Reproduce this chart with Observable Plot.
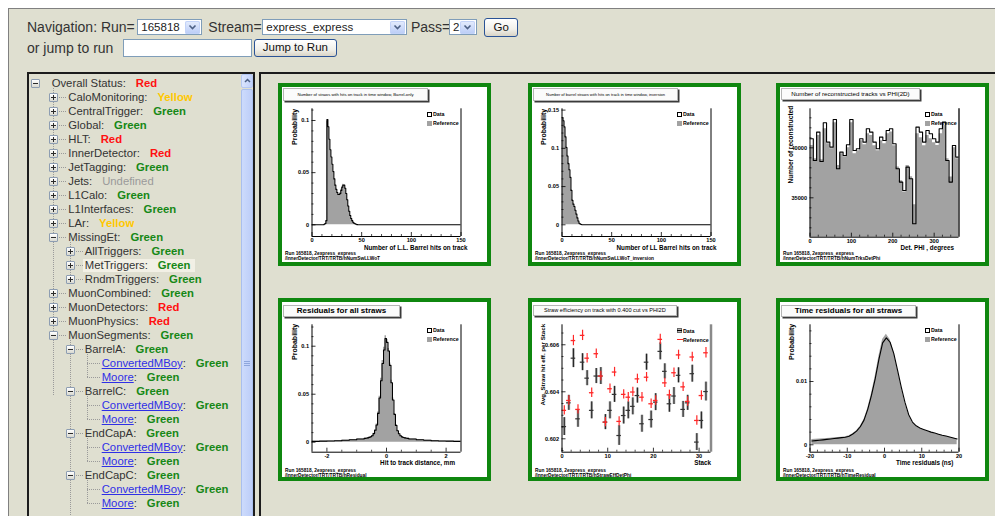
<!DOCTYPE html>
<html><head><meta charset="utf-8">
<script src="https://cdn.jsdelivr.net/npm/d3@7"></script>
<script src="https://cdn.jsdelivr.net/npm/@observablehq/plot@0.6"></script>
<style>
html,body{margin:0;padding:0;width:1000px;height:516px;overflow:hidden;background:#fff}
body{position:relative;font-family:"Liberation Sans",Arial,sans-serif;color:#333}
.a{position:absolute}
#page{left:8px;top:7.5px;width:987px;height:520px;background:#dfdfd0;border-top:1.5px solid #808080;border-left:1px solid #808080;box-sizing:border-box}
.t14{font-size:14px;line-height:16px;white-space:nowrap;color:#333}
.sel{background:#fff;border:1px solid #7f9db9;box-sizing:border-box;font-size:11.5px;line-height:14px;padding-left:3px;color:#222;white-space:nowrap}
.dd{position:absolute;right:0.5px;top:0.5px;width:15px;height:13px;background:linear-gradient(#e6edfd,#b9ccf7);border-radius:2px;box-shadow:inset 0 0 0 1px #c3d3f8}
.btn{border:1px solid #2a5396;border-radius:3px;background:linear-gradient(#ffffff,#f1f0ea 60%,#d9d4c6);box-sizing:border-box;font-size:11.5px;text-align:center;color:#111;white-space:nowrap}
.pane{border-top:2px solid #1c1c1c;border-left:2px solid #1c1c1c;box-sizing:border-box;background:#dfdfd0}
.row{font-size:11.3px;line-height:14px;height:14px;white-space:nowrap;color:#333}
.st{font-weight:bold;margin-left:10px}
.vd{border-left:1px dotted #9a9a9a;width:0}
.hd{border-top:1px dotted #9a9a9a;height:0}
.ic{width:9px;height:9px;box-sizing:border-box;border:1px solid #8d9db2;background:linear-gradient(#ffffff,#d9d9d0);border-radius:1px}
.ic i{position:absolute;background:#2b2b2b}
.panel{width:213px;height:183px;background:#fff;box-shadow:inset 0 0 0 4px #0f870f}
.tbox{background:#fbfbfb;border:1px solid #b5b5b5;box-shadow:1.5px 1.5px 0 #3a3a3a;box-sizing:border-box;text-align:center;white-space:nowrap;overflow:hidden;color:#000}
.foot{font-size:4.8px;line-height:5.4px;font-weight:bold;white-space:nowrap;color:#000}
.lg{font-size:5.3px;line-height:6px;font-weight:bold;white-space:nowrap;color:#000}
</style></head><body>
<div id="page" class="a"></div>

<div class="a t14" style="left:27px;top:19px">Navigation: Run=</div>
<div class="a sel" style="left:137.3px;top:19px;width:64.4px;height:16px">165818<div class="dd"><svg width="15" height="13"><path d="M4.5 4.5 L7.5 7.5 L10.5 4.5" stroke="#4d6185" stroke-width="1.6" fill="none"/></svg></div></div>
<div class="a t14" style="left:208.3px;top:19px">Stream=</div>
<div class="a sel" style="left:262.3px;top:19px;width:144.4px;height:16px">express_express<div class="dd"><svg width="15" height="13"><path d="M4.5 4.5 L7.5 7.5 L10.5 4.5" stroke="#4d6185" stroke-width="1.6" fill="none"/></svg></div></div>
<div class="a t14" style="left:411px;top:19px">Pass=</div>
<div class="a sel" style="left:449px;top:19px;width:27.7px;height:16px">2<div class="dd"><svg width="15" height="13"><path d="M4.5 4.5 L7.5 7.5 L10.5 4.5" stroke="#4d6185" stroke-width="1.6" fill="none"/></svg></div></div>
<div class="a btn" style="left:484px;top:17.5px;width:34.3px;height:19px;line-height:17px">Go</div>
<div class="a t14" style="left:27px;top:40px">or jump to run</div>
<div class="a sel" style="left:123.3px;top:39.3px;width:128.4px;height:17.4px"></div>
<div class="a btn" style="left:254px;top:39.3px;width:82.7px;height:17.4px;line-height:15.4px">Jump to Run</div>

<div id="leftpane" class="a pane" style="left:26.7px;top:72.3px;width:228.3px;height:460px;border-right:2px solid #1c1c1c"></div>
<div id="rightpane" class="a pane" style="left:258.7px;top:72.3px;width:736.3px;height:460px"></div>

<div id="tree"></div>
<div id="charts"></div>

<script>
// ---------------- tree data ----------------
const treeLabels = ["Overall Status","CaloMonitoring","CentralTrigger","Global","HLT","InnerDetector","JetTagging","Jets","L1Calo","L1Interfaces","LAr","MissingEt","AllTriggers","MetTriggers","RndmTriggers","MuonCombined","MuonDetectors","MuonPhysics","MuonSegments","BarrelA","ConvertedMBoy","Moore","BarrelC","ConvertedMBoy","Moore","EndCapA","ConvertedMBoy","Moore","EndCapC","ConvertedMBoy","Moore"];
const treeLevels = [0,1,1,1,1,1,1,1,1,1,1,1,2,2,2,1,1,1,1,2,3,3,2,3,3,2,3,3,2,3,3];
const treeStatus = ["Red","Yellow","Green","Green","Red","Red","Green","Undefined","Green","Green","Yellow","Green","Green","Green","Green","Green","Red","Red","Green","Green","Green","Green","Green","Green","Green","Green","Green","Green","Green","Green","Green"];
const treeOpen = [true,false,false,false,false,false,false,false,false,false,false,true,false,false,false,false,false,false,true,true,null,null,true,null,null,true,null,null,true,null,null];
const treeSelected = "MetTriggers";

// ---------------- chart data ----------------
const runLine = "Run 165818, 2express_express";
// Panel 1
const p1Title = "Number of straws with hits on track in time window, Barrel-only";
const p1Path = "/InnerDetector/TRT/TRTB/hNumSwLLWoT";
const p1XTitle = "Number of L.L. Barrel hits on track";
const p1YTitle = "Probability";
const p1BinLo = 12, p1BinW = 1;
const p1Data = [0.0005,0.0012,0.004,0.101,0.094,0.082,0.072,0.065,0.058,0.051,0.044,0.038,0.034,0.031,0.029,0.029,0.030,0.033,0.036,0.038,0.038,0.035,0.030,0.024,0.018,0.013,0.009,0.006,0.004,0.0025,0.0015,0.001,0.0005,0.0002];
const p1Ref  = [0.0004,0.0011,0.0038,0.099,0.093,0.081,0.071,0.064,0.057,0.050,0.044,0.038,0.034,0.031,0.029,0.029,0.031,0.034,0.037,0.039,0.038,0.035,0.030,0.024,0.018,0.013,0.009,0.006,0.004,0.0025,0.0015,0.001,0.0005,0.0002];
const p1XDomain = [0,150], p1YDomain = [-0.0112,0.1112];
const p1XTicks = [0,50,100,150], p1XMinor = [10,20,30,40,60,70,80,90,110,120,130,140];
const p1YTicks = [0,0.05,0.1], p1YMinor = [0.01,0.02,0.03,0.04,0.06,0.07,0.08,0.09,0.11];
// Panel 2
const p2Title = "Number of barrel straws with hits on track in time window, inversion";
const p2Path = "/InnerDetector/TRT/TRTB/hNumSwLLWoT_inversion";
const p2XTitle = "Number of LL Barrel hits on track";
const p2YTitle = "Probability";
const p2BinLo = 0, p2BinW = 1;
const p2Data = [0.140,0.136,0.128,0.115,0.101,0.090,0.080,0.072,0.062,0.045,0.032,0.027,0.024,0.019,0.014,0.009,0.005,0.002,0.001,0.0003];
const p2Ref  = [0.138,0.135,0.127,0.116,0.102,0.091,0.081,0.072,0.061,0.046,0.033,0.027,0.024,0.019,0.014,0.009,0.005,0.002,0.001,0.0003];
const p2XDomain = [0,150], p2YDomain = [-0.0153,0.1517];
const p2XTicks = [0,50,100,150], p2XMinor = [10,20,30,40,60,70,80,90,110,120,130,140];
const p2YTicks = [0,0.05,0.1,0.15], p2YMinor = [0.01,0.02,0.03,0.04,0.06,0.07,0.08,0.09,0.11,0.12,0.13,0.14];
// Panel 3
const p3Title = "Number of reconstructed tracks vs PHI(2D)";
const p3Path = "/InnerDetector/TRT/TRTB/hNumTrksDetPhi";
const p3XTitle = "Det. PHI , degrees";
const p3YTitle = "Number of reconstructed";
const p3BinLo = 0, p3BinW = 8;
const p3Data = [40900,38730,41570,38630,42500,40570,40070,42830,37900,39570,39230,40300,42830,39730,39900,40900,40570,41900,41570,40570,39900,41070,40730,41730,41900,40400,37900,36570,35730,38070,36900,32400,42070,41570,40570,41730,41400,40900,40570,41900,42570,38730,36570,40230,39070];
const p3Ref  = [40230,38900,41230,38800,41900,40400,39900,42500,38230,39400,39100,40000,42500,39400,39700,40700,40300,41400,41230,40200,39700,40700,40400,41400,41570,40200,38070,36700,35570,38230,37100,34300,41400,41000,40200,41230,40900,40500,40230,41400,42230,38900,37070,40000,38900];
const p3XDomain = [0,360], p3YDomain = [31060,43900];
const p3XTicks = [0,100,200,300], p3XMinor = [20,40,60,80,120,140,160,180,220,240,260,280,320,340];
const p3YTicks = [35000,40000], p3YMinor = [32000,33000,34000,36000,37000,38000,39000,41000,42000,43000];
// Panel 4
const p4Title = "Residuals for all straws";
const p4Path = "/InnerDetector/TRT/TRTB/hResidual";
const p4XTitle = "Hit to track distance, mm";
const p4YTitle = "Probability";
const p4Edges = [-2.5,-2.25,-2,-1.75,-1.5,-1.25,-1,-0.75,-0.7,-0.65,-0.6,-0.55,-0.5,-0.45,-0.4,-0.35,-0.3,-0.25,-0.2,-0.15,-0.1,-0.05,0,0.05,0.1,0.15,0.2,0.25,0.3,0.35,0.4,0.45,0.5,0.55,0.6,0.65,0.7,0.75,1,1.25,1.5,1.75,2,2.25,2.5];
const p4Data = [0.0009,0.0011,0.0013,0.0016,0.0020,0.0026,0.0033,
  0.0040,0.0042,0.0045,0.0050,0.0057,0.0068,0.0090,0.0125,0.0180,0.0300,0.0460,0.0640,0.0820,0.0960,0.1080,0.1040,0.0950,0.0800,0.0620,0.0440,0.0290,0.0175,0.0120,0.0088,0.0067,0.0056,0.0049,0.0045,0.0042,0.0040,
  0.0033,0.0026,0.0020,0.0016,0.0013,0.0011,0.0009];
const p4Ref = [0.0009,0.0011,0.0013,0.0016,0.0020,0.0026,0.0034,
  0.0041,0.0043,0.0046,0.0051,0.0058,0.0070,0.0093,0.0130,0.0190,0.0315,0.0480,0.0665,0.0850,0.0990,0.1110,0.1070,0.0975,0.0825,0.0645,0.0460,0.0300,0.0182,0.0124,0.0090,0.0069,0.0057,0.0050,0.0046,0.0043,0.0041,
  0.0034,0.0026,0.0020,0.0016,0.0013,0.0011,0.0009];
const p4XDomain = [-2.5,2.5], p4YDomain = [-0.0104,0.1223];
const p4XTicks = [-2,0,2], p4XMinor = [-1.5,-1,-0.5,0.5,1,1.5];
const p4YTicks = [0,0.05,0.1], p4YMinor = [0.01,0.02,0.03,0.04,0.06,0.07,0.08,0.09,0.11,0.12];
// Panel 5
const p5Title = "Straw efficiency on track with 0.400 cut vs PHI2D";
const p5Path = "/InnerDetector/TRT/TRTB/hStrawEffDetPhi";
const p5XTitle = "Stack";
const p5YTitle = "Avg. Straw hit eff. per Stack";
const p5Stacks = [0,1,2,3,4,5,6,7,8,9,10,11,12,13,14,15,16,17,18,19,20,21,22,23,24,25,26,27,28,29,30,31];
const p5Data = [0.60252,0.60353,0.60543,0.60285,0.60526,0.60458,0.60321,0.60467,0.60467,0.60271,0.60321,0.60389,0.60214,0.60299,0.60321,0.60338,0.60384,0.60264,0.60526,0.60282,0.60356,0.60572,0.60487,0.60349,0.60382,0.60470,0.60325,0.60353,0.60477,0.60186,0.60278,0.60401];
const p5DataErr = [0.00038,0.00032,0.00040,0.00036,0.00036,0.00032,0.00036,0.00032,0.00036,0.00032,0.00036,0.00034,0.00042,0.00036,0.00036,0.00036,0.00032,0.00036,0.00034,0.00036,0.00036,0.00036,0.00032,0.00036,0.00036,0.00032,0.00034,0.00032,0.00036,0.00036,0.00036,0.00040];
const p5Ref = [0.60321,0.60363,0.60618,0.60325,0.60640,0.60543,0.60396,0.60562,0.60467,0.60271,0.60413,0.60484,0.60274,0.60389,0.60377,0.60399,0.60455,0.60377,0.60462,0.60349,0.60363,0.60623,0.60438,0.60387,0.60481,0.60557,0.60421,0.60359,0.60548,0.60278,0.60384,0.60566];
const p5RefErr = [0.00020,0.00020,0.00022,0.00020,0.00022,0.00020,0.00020,0.00020,0.00020,0.00020,0.00020,0.00020,0.00020,0.00020,0.00020,0.00020,0.00020,0.00020,0.00020,0.00020,0.00020,0.00022,0.00020,0.00020,0.00020,0.00020,0.00020,0.00020,0.00020,0.00020,0.00020,0.00022];
const p5XDomain = [0,32.6], p5YDomain = [0.60143,0.60685];
const p5XTicks = [0,10,20,30], p5XMinor = [2,4,6,8,12,14,16,18,22,24,26,28,32];
const p5YTicks = [0.602,0.604,0.606], p5YMinor = [0.6015,0.6025,0.603,0.6035,0.6045,0.605,0.6055,0.6065];
// Panel 6
const p6Title = "Time residuals for all straws";
const p6Path = "/InnerDetector/TRT/TRTB/hTimeResidual";
const p6XTitle = "Time residuals (ns)";
const p6YTitle = "Probability";
const p6BinLo = -20, p6BinW = 1;
const p6Data = [0.00060,0.00066,0.00072,0.00078,0.00085,0.00092,0.00099,0.00106,0.00113,0.00120,0.00135,0.00170,0.00215,0.00285,0.00390,0.00560,0.00780,0.01040,0.01350,0.01610,0.01690,0.01620,0.01440,0.01180,0.00910,0.00670,0.00475,0.00360,0.00300,0.00265,0.00243,0.00222,0.00200,0.00185,0.00168,0.00152,0.00138,0.00123,0.00108,0.00092];
const p6Ref  = [0.00085,0.00089,0.00093,0.00097,0.00101,0.00105,0.00110,0.00115,0.00121,0.00128,0.00142,0.00175,0.00222,0.00292,0.00400,0.00575,0.00805,0.01080,0.01400,0.01665,0.01745,0.01665,0.01470,0.01195,0.00915,0.00665,0.00470,0.00352,0.00292,0.00258,0.00236,0.00215,0.00194,0.00178,0.00162,0.00147,0.00133,0.00119,0.00105,0.00090];
const p6XDomain = [-20,20], p6YDomain = [-0.00117,0.01896];
const p6XTicks = [-20,-10,0,10,20], p6XMinor = [-18,-16,-14,-12,-8,-6,-4,-2,2,4,6,8,12,14,16,18];
const p6YTicks = [0,0.01], p6YMinor = [0.002,0.004,0.006,0.008,0.012,0.014,0.016,0.018];

// ---------------- tree rendering ----------------
(function(){
  const tree = document.getElementById("tree");
  const rowY = i => 83.3 + 14 * i;
  const iconXs = [35, 52.7, 70, 86.7], textXs = [51.7, 68.3, 84.8, 101.7];
  const colors = {Red:"#ff1010", Yellow:"#ffc800", Green:"#168816", Undefined:"#9a9a9a"};
  let html = "";
  html += `<div class="a" style="left:240.5px;top:74.3px;width:12.5px;height:14px;background:linear-gradient(90deg,#dbe5fd,#c0d1fa);border:1px solid #b4c7f2;border-radius:2px;box-sizing:border-box"><svg width="11" height="12" style="position:absolute;left:0;top:0"><path d="M3 7 L5.5 4.5 L8 7" stroke="#4d6185" stroke-width="1.5" fill="none"/></svg></div>`;
  html += `<div class="a" style="left:240.5px;top:89px;width:12.5px;height:440px;background:linear-gradient(90deg,#cddbfc,#bccdf8);border:1px solid #a9bfee;border-radius:2px;box-sizing:border-box"></div>`;
  for (let k = 0; k < 3; k++) html += `<div class="a" style="left:244px;top:${361 + 2*k}px;width:6px;height:1px;background:#8ea6dc"></div>`;
  const sel = treeLabels.indexOf(treeSelected);
  html += `<div class="a" style="left:83.3px;top:${rowY(sel)-6.7}px;width:112px;height:13.4px;background:#f2f0e5"></div>`;
  for (let i = 1; i < treeLabels.length; i++) {
    const L = treeLevels[i];
    let p = i - 1; while (treeLevels[p] > L) p--;
    const y0 = treeLevels[p] === L ? rowY(p) : rowY(p) + 5;
    html += `<div class="a vd" style="left:${iconXs[L]}px;top:${y0}px;height:${rowY(i)-y0}px"></div>`;
    html += `<div class="a hd" style="left:${iconXs[L]}px;top:${rowY(i)}px;width:${textXs[L]-iconXs[L]-2}px"></div>`;
  }
  html += `<div class="a vd" style="left:${iconXs[1]}px;top:${rowY(18)}px;height:60px"></div>`;
  html += `<div class="a vd" style="left:${iconXs[2]}px;top:${rowY(28)}px;height:60px"></div>`;
  treeLabels.forEach((lab, i) => {
    const L = treeLevels[i], y = rowY(i);
    if (treeOpen[i] !== null) {
      html += `<div class="a ic" style="left:${iconXs[L]-4}px;top:${y-4.5}px"><i style="left:1px;top:3px;width:5px;height:1px"></i>${treeOpen[i] ? "" : '<i style="left:3px;top:1px;width:1px;height:5px"></i>'}</div>`;
    }
    const st = treeStatus[i];
    const stStyle = st === "Undefined" ? `color:${colors[st]};font-weight:normal` : `color:${colors[st]}`;
    const labHtml = treeOpen[i] === null ? `<span style="color:#2f2fe6;text-decoration:underline">${lab}</span>:` : `${lab}:`;
    html += `<div class="a row" style="left:${textXs[L]}px;top:${y-7.5}px">${labHtml}<span class="st" style="${stStyle}">${st}</span></div>`;
  });
  tree.innerHTML = html;
})();

// ---------------- chart rendering ----------------
const GRAY = "#a2a2a2";
const FONT = "Liberation Sans, Arial, sans-serif";
const charts = document.getElementById("charts");

function makePanel(left, top) {
  const d = document.createElement("div");
  d.className = "a panel";
  d.style.left = left + "px"; d.style.top = top + "px";
  charts.appendChild(d);
  return d;
}
function addTitle(p, t, box, fs, bold) {
  const d = document.createElement("div");
  d.className = "a tbox";
  d.style.cssText += `left:${box[0]}px;top:${box[1]}px;width:${box[2]}px;height:${box[3]}px;font-size:${fs}px;line-height:${box[3]-2}px;font-weight:${bold ? "bold" : "normal"}`;
  d.textContent = t;
  p.appendChild(d);
}
function addFooter(p, top, path) {
  const d = document.createElement("div");
  d.className = "a foot";
  d.style.left = "7px"; d.style.top = top + "px";
  d.innerHTML = runLine + "<br>" + path;
  p.appendChild(d);
}
function addLegend(p, top, kind) {
  const d = document.createElement("div");
  d.className = "a";
  d.style.left = "148.5px"; d.style.top = top + "px";
  let h = "";
  if (kind === "hist") {
    h += `<div class="a" style="left:0;top:0;width:5px;height:5px;border:1px solid #000;border-top-width:1.5px;box-sizing:border-box;background:#fff"></div>`;
    h += `<div class="a" style="left:0;top:9px;width:5px;height:5px;background:${GRAY}"></div>`;
  } else {
    h += `<div class="a" style="left:0;top:0;width:5px;height:5px;border:1px solid #666;box-sizing:border-box;background:#bbb"></div><div class="a" style="left:0;top:2px;width:5px;height:1px;background:#000"></div>`;
    h += `<div class="a" style="left:0;top:11px;width:6px;height:1.2px;background:#ff2828"></div>`;
  }
  h += `<div class="a lg" style="left:6.5px;top:-0.5px">Data</div><div class="a lg" style="left:6.5px;top:8.5px">Reference</div>`;
  d.innerHTML = h;
  p.appendChild(d);
}

function axesMarks(c, fw, fh) {
  return [
    Plot.ruleX([c.xD[0]], {stroke: "#000", strokeWidth: 1}),
    Plot.ruleX([c.xD[1]], {stroke: c.rightStroke || "#000", strokeWidth: c.rightWidth || 1}),
    Plot.ruleY([c.yD[0]], {stroke: "#000", strokeWidth: 1}),
    Plot.tickY(c.yTicks, {y: d => d, insetRight: fw - 4, stroke: "#000", strokeWidth: 0.8}),
    Plot.tickY(c.yMinor, {y: d => d, insetRight: fw - 2, stroke: "#000", strokeWidth: 0.7}),
    Plot.tickX(c.xTicks, {x: d => d, insetTop: fh - 4, stroke: "#000", strokeWidth: 0.8}),
    Plot.tickX(c.xMinor, {x: d => d, insetTop: fh - 2, stroke: "#000", strokeWidth: 0.7}),
    Plot.axisY(c.yTicks, {tickSize: 0, tickPadding: 3, tickFormat: String, label: null, fontSize: 5.6}),
    Plot.axisX(c.xTicks, {tickSize: 0, tickPadding: c.xPad, tickFormat: String, label: null, fontSize: 5.6}),
    Plot.text([c.xTitle], {text: d => d, frameAnchor: "bottom-right", textAnchor: "end", dx: c.xTitleDx, dy: 13, fontSize: 6.3}),
    Plot.text([c.yTitle], {text: d => d, frameAnchor: "top-left", rotate: -90, textAnchor: "end", dx: c.yTitleDx, dy: c.yTitleDy, fontSize: c.yTitleFs || 7})
  ];
}

function chart(c, dataMarks) {
  const W = 213, H = 183, ml = 33.5, mr = 30.5;
  const fw = W - ml - mr, fh = H - c.mt - c.mb;
  const svg = Plot.plot({
    width: W, height: H,
    marginLeft: ml, marginRight: mr, marginTop: c.mt, marginBottom: c.mb,
    x: {domain: c.xD, axis: null},
    y: {domain: c.yD, axis: null},
    style: {background: "transparent", overflow: "visible", fontFamily: FONT, fontWeight: "bold", color: "#000"},
    marks: [...dataMarks, ...axesMarks(c, fw, fh)]
  });
  svg.style.position = "absolute"; svg.style.left = "0px"; svg.style.top = "0px";
  return svg;
}

function histMarks(c) {
  const n = c.ref.length;
  const edges = c.edges || c.ref.map((_, i) => c.lo + i * c.w).concat([c.lo + n * c.w]);
  let pts, curve;
  if (c.smooth) {
    curve = "linear";
    pts = c.ref.map((v, i) => ({x: (edges[i] + edges[i + 1]) / 2, ref: v, data: c.data[i], base: 0}));
  } else {
    curve = "step-after";
    pts = c.ref.map((v, i) => ({x: edges[i], ref: v, data: c.data[i], base: 0}));
    pts.push({x: edges[n], ref: c.ref[n - 1], data: c.data[n - 1], base: 0});
    if (edges[0] > c.xD[0]) pts.unshift({x: c.xD[0], ref: 0, data: 0, base: 0});
    if (edges[n] < c.xD[1]) pts.push({x: edges[n], ref: 0, data: 0, base: 0}, {x: c.xD[1], ref: 0, data: 0, base: 0});
  }
  return [
    Plot.area(pts, {x1: "x", y1: "base", y2: "ref", curve, fill: GRAY, clip: true}),
    Plot.line(pts, {x: "x", y: "data", curve, stroke: "#000", strokeWidth: 1.1, clip: true})
  ];
}

const panels = [
  {left: 278, top: 83, mt: 25.3, mb: 30, xPad: 1.5, title: p1Title, tbox: [5, 5, 145, 13], tfs: 4.2, tbold: false, path: p1Path,
   xTitle: p1XTitle, yTitle: p1YTitle, xTitleDx: 6.5, yTitleDx: -19.8, yTitleDy: 0,
   lo: p1BinLo, w: p1BinW, data: p1Data, ref: p1Ref, xD: p1XDomain, yD: p1YDomain,
   xTicks: p1XTicks, xMinor: p1XMinor, yTicks: p1YTicks, yMinor: p1YMinor, legTop: 28.5, footTop: 167.5},
  {left: 528, top: 83, mt: 25.3, mb: 30, xPad: 1.5, title: p2Title, tbox: [5, 5, 145, 13], tfs: 4.0, tbold: false, path: p2Path,
   xTitle: p2XTitle, yTitle: p2YTitle, xTitleDx: 5.5, yTitleDx: -20.5, yTitleDy: 0,
   lo: p2BinLo, w: p2BinW, data: p2Data, ref: p2Ref, xD: p2XDomain, yD: p2YDomain,
   xTicks: p2XTicks, xMinor: p2XMinor, yTicks: p2YTicks, yMinor: p2YMinor, legTop: 28.5, footTop: 167.5},
  {left: 776, top: 83, mt: 25.3, mb: 29.3, xPad: 1.5, title: p3Title, tbox: [5, 5, 139, 11.5], tfs: 6.2, tbold: false, path: p3Path,
   xTitle: p3XTitle, yTitle: p3YTitle, xTitleDx: -5, yTitleDx: -21.5, yTitleDy: -3, yTitleFs: 6.5,
   lo: p3BinLo, w: p3BinW, data: p3Data, ref: p3Ref, xD: p3XDomain, yD: p3YDomain,
   xTicks: p3XTicks, xMinor: p3XMinor, yTicks: p3YTicks, yMinor: p3YMinor, legTop: 28.5, footTop: 167.5, rightWidth: 1.3},
  {left: 278, top: 298, mt: 26.3, mb: 29.3, xPad: 2, title: p4Title, tbox: [5, 7, 117, 11.7], tfs: 8, tbold: true, path: p4Path,
   xTitle: p4XTitle, yTitle: p4YTitle, xTitleDx: -6, yTitleDx: -19.8, yTitleDy: -1,
   edges: p4Edges, data: p4Data, ref: p4Ref, xD: p4XDomain, yD: p4YDomain,
   xTicks: p4XTicks, xMinor: p4XMinor, yTicks: p4YTicks, yMinor: p4YMinor, legTop: 29.5, footTop: 169.5},
  {left: 528, top: 298, mt: 26.3, mb: 29.3, xPad: 2, title: p5Title, tbox: [5, 7, 143.7, 10.7], tfs: 5.6, tbold: false, path: p5Path,
   xTitle: p5XTitle, yTitle: p5YTitle, xTitleDx: 0, yTitleDx: -21.5, yTitleDy: -1, yTitleFs: 6.2,
   xD: p5XDomain, yD: p5YDomain, rightStroke: "#8a8a8a", rightWidth: 2.5,
   xTicks: p5XTicks, xMinor: p5XMinor, yTicks: p5YTicks, yMinor: p5YMinor, legTop: 30, footTop: 169.5, points: true},
  {left: 776, top: 298, mt: 26.3, mb: 29.3, xPad: 2, title: p6Title, tbox: [5, 7, 135, 11.7], tfs: 8, tbold: true, path: p6Path,
   xTitle: p6XTitle, yTitle: p6YTitle, xTitleDx: -5.7, yTitleDx: -20.5, yTitleDy: -1,
   lo: p6BinLo, w: p6BinW, data: p6Data, ref: p6Ref, xD: p6XDomain, yD: p6YDomain, smooth: true,
   xTicks: p6XTicks, xMinor: p6XMinor, yTicks: p6YTicks, yMinor: p6YMinor, legTop: 29.5, footTop: 169.5}
];

function pointMarks() {
  const items = p5Stacks.map((s, i) => ({lo: s, hi: s + 1, c: s + 0.5, data: p5Data[i], dErr: p5DataErr[i], ref: p5Ref[i], rErr: p5RefErr[i]}));
  return [
    Plot.ruleX(items, {x: "c", y1: d => d.data - d.dErr, y2: d => d.data + d.dErr, stroke: "#aaaaaa", strokeWidth: 2.6}),
    Plot.ruleX(items, {x: "c", y1: d => d.data - d.dErr, y2: d => d.data + d.dErr, stroke: "#1e1e1e", strokeWidth: 1}),
    Plot.ruleY(items, {y: "data", x1: "lo", x2: "hi", stroke: "#333", strokeWidth: 1.2}),
    Plot.ruleX(items, {x: "c", y1: d => d.ref - d.rErr, y2: d => d.ref + d.rErr, stroke: "#ff2828", strokeWidth: 1.2}),
    Plot.ruleY(items, {y: "ref", x1: "lo", x2: "hi", stroke: "#ff2828", strokeWidth: 1.3})
  ];
}

panels.forEach(c => {
  const p = makePanel(c.left, c.top);
  p.appendChild(chart(c, c.points ? pointMarks() : histMarks(c)));
  addTitle(p, c.title, c.tbox, c.tfs, c.tbold);
  addLegend(p, c.legTop, c.points ? "err" : "hist");
  addFooter(p, c.footTop, c.path);
});
</script>
</body></html>
